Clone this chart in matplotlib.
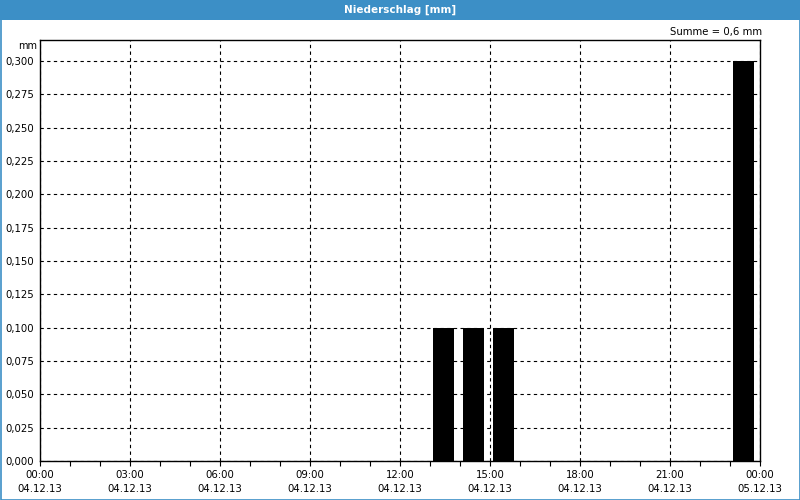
import matplotlib
matplotlib.use("Agg")
import matplotlib.pyplot as plt
from matplotlib.patches import Rectangle
from matplotlib.ticker import MultipleLocator

# Data (hours since 04.12.13 00:00)
bar_hours = [13.45, 14.45, 15.45, 23.45]
bar_values = [0.1, 0.1, 0.1, 0.3]
bar_width = 0.7
tick_hours = [0, 3, 6, 9, 12, 15, 18, 21, 24]
tick_times = ["00:00", "03:00", "06:00", "09:00", "12:00", "15:00", "18:00", "21:00", "00:00"]
tick_dates = ["04.12.13"] * 8 + ["05.12.13"]
y_ticks = [0.0, 0.025, 0.05, 0.075, 0.1, 0.125, 0.15, 0.175, 0.2, 0.225, 0.25, 0.275, 0.3]
title = "Niederschlag [mm]"
summe = "Summe = 0,6 mm"

plt.rcParams['font.family'] = ['DejaVu Sans']
fig = plt.figure(figsize=(8, 5), dpi=100)
fig.patch.set_facecolor('white')

blue = '#3c8fc6'
# title bar
fig.patches.append(Rectangle((0, 1 - 20/500), 1, 20/500, transform=fig.transFigure,
                             facecolor=blue, edgecolor='none', zorder=0))
# window border
fig.patches.append(Rectangle((0.5/800, 0.5/500), 1 - 1/800, 1 - 1/500, transform=fig.transFigure,
                             facecolor='none', edgecolor=blue, linewidth=1.2, zorder=0))
fig.text(0.5, 1 - 10/500, title, color='white', ha='center', va='center',
         fontsize=7.5, fontweight='bold')

ax = fig.add_axes([40/800, 1 - 461/500, 720/800, 421/500])
ax.bar(bar_hours, bar_values, width=bar_width, color='black', zorder=3)
ax.set_xlim(0, 24)
ax.set_ylim(0, 0.3 * 421 / 400)

ax.set_xticks(tick_hours)
ax.set_xticklabels([f"{t}\n{d}" for t, d in zip(tick_times, tick_dates)], fontsize=7.3, linespacing=1.5)
ax.xaxis.set_minor_locator(MultipleLocator(1))
ax.tick_params(axis='x', which='both', length=3.5, width=0.8, direction='out', pad=3)
ax.set_yticks(y_ticks)
ax.set_yticklabels([f"{v:.3f}".replace('.', ',') for v in y_ticks], fontsize=7.3)
ax.tick_params(axis='y', length=0, pad=4)

ax.grid(True, which='major', color='black', linestyle=(0, (3, 3)), linewidth=0.8)
ax.set_axisbelow(True)
for s in ax.spines.values():
    s.set_linewidth(1.0)

fig.text(37/800, 1 - 46/500, "mm", ha='right', va='center', fontsize=7)
fig.text(762/800, 1 - 32/500, summe, ha='right', va='center', fontsize=7.3)

fig.savefig("out.png", dpi=100)
